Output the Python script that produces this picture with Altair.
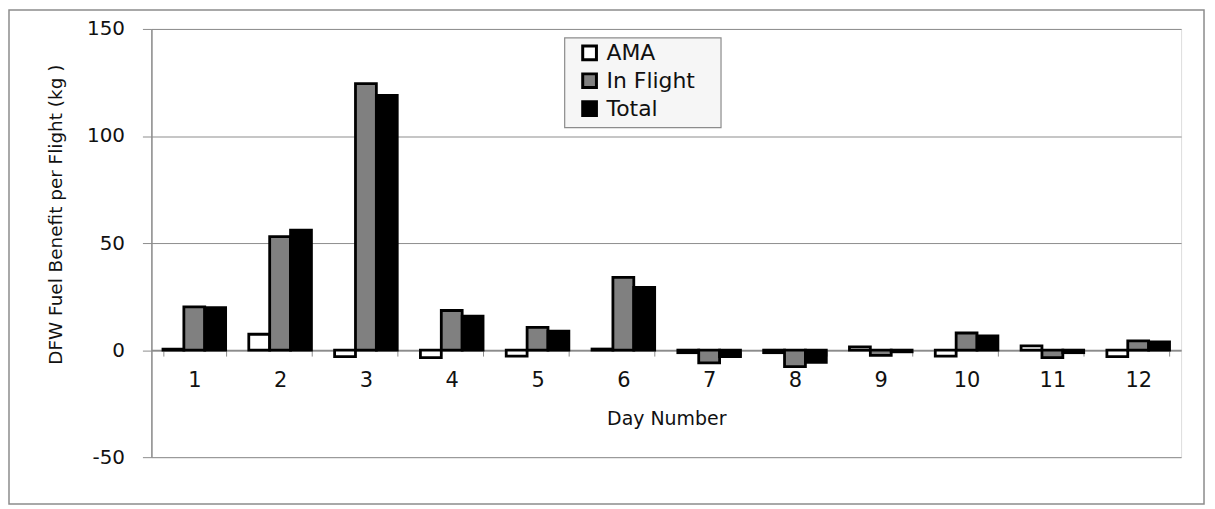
import altair as alt
import pandas as pd

days = [1, 2, 3, 4, 5, 6, 7, 8, 9, 10, 11, 12]
ama = [0.5, 7.4, -3.0, -3.5, -2.8, 0.5, -1.2, -1.2, 1.5, -2.8, 2.0, -3.0]
in_flight = [20.2, 53.0, 124.5, 18.5, 10.6, 34.0, -6.0, -7.7, -2.5, 8.0, -3.5, 4.3]
total = [19.8, 56.0, 119.0, 15.9, 8.9, 29.3, -3.0, -5.7, -0.8, 6.6, -1.2, 3.8]
series = ["AMA", "In Flight", "Total"]
fills = ["white", "#808080", "black"]
y_ticks = [-50, 0, 50, 100, 150]

rows = []
for i, d in enumerate(days):
    for s, vals in zip(series, [ama, in_flight, total]):
        rows.append({"Day": d, "Series": s, "Value": vals[i]})
df = pd.DataFrame(rows)

W, H = 1034, 430
FONT = "DejaVu Sans"

bars = alt.Chart(df).mark_bar(stroke="black", strokeWidth=2.8).encode(
    x=alt.X(
        "Day:O",
        sort=days,
        scale=alt.Scale(paddingInner=0.27, paddingOuter=0.135),
        axis=alt.Axis(
            title="Day Number",
            labelAngle=0,
            offset=-107.5,
            domainColor="#8c8c8c",
            domainWidth=1.5,
            tickColor="#8c8c8c",
            tickSize=6,
            tickBand="extent",
            labelPadding=14,
            labelFontSize=21,
            labelFont=FONT,
            labelColor="#111",
            titleFontSize=19,
            titleFont=FONT,
            titleFontWeight="normal",
            titleColor="#111",
            titlePadding=19,
        ),
    ),
    xOffset=alt.XOffset("Series:N", sort=series, scale=alt.Scale(domain=series, paddingInner=0, paddingOuter=0)),
    y=alt.Y(
        "Value:Q",
        scale=alt.Scale(domain=[-50, 150], nice=False),
        axis=alt.Axis(
            title="DFW Fuel Benefit per Flight (kg )",
            values=y_ticks,
            labelExpr="'' + datum.value",
            domainColor="#8c8c8c",
            domainWidth=1.5,
            tickColor="#8c8c8c",
            tickSize=9,
            labelPadding=18,
            labelFontSize=20,
            labelFont=FONT,
            labelColor="#111",
            grid=True,
            gridColor="#8c8c8c",
            gridWidth=1,
            titleFontSize=18.5,
            titleFont=FONT,
            titleFontWeight="normal",
            titleColor="#111",
            titleAngle=-90,
            titleX=-96,
            titleY=186,
            titleAlign="center",
            titleBaseline="middle",
        ),
    ),
    fill=alt.Fill(
        "Series:N",
        scale=alt.Scale(domain=series, range=fills),
        legend=alt.Legend(
            title=None,
            orient="none",
            legendX=429,
            legendY=13,
            direction="vertical",
            symbolType="square",
            symbolSize=190,
            symbolStrokeColor="black",
            symbolStrokeWidth=3,
            symbolOpacity=1,
            labelFontSize=22,
            labelFont=FONT,
            labelColor="#111",
            labelOffset=6,
            rowPadding=2,
            padding=0,
        ),
    ),
)

legend_box = alt.Chart(pd.DataFrame({"a": [0]})).mark_rect(
    fill="#f6f6f6", stroke="#8c8c8c", strokeWidth=1.2
).encode(
    x=alt.value(415), x2=alt.value(572),
    y=alt.value(9), y2=alt.value(99),
)

frame = alt.Chart(pd.DataFrame({"a": [0]})).mark_rect(
    fill=None, stroke="#8c8c8c", strokeWidth=1.5
).encode(
    x=alt.value(-143), x2=alt.value(W + 23),
    y=alt.value(-19), y2=alt.value(H + 47),
)

chart = alt.layer(frame, bars, legend_box).properties(
    width=W,
    height=H,
    autosize=alt.AutoSizeParams(type="none"),
    padding={"left": 144, "top": 20, "right": 26, "bottom": 48},
).configure_view(stroke=None).configure(background="white")

chart.save("out.html", embed_options={"renderer": "svg", "actions": False})
